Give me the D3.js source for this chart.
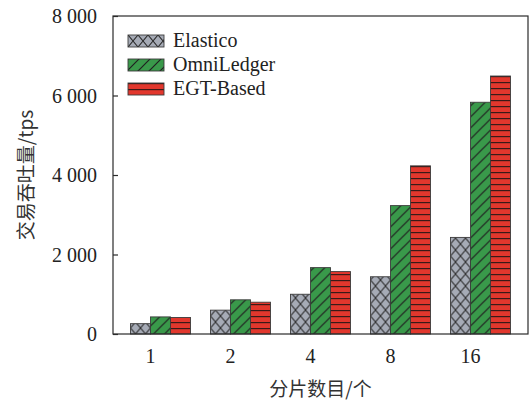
<!DOCTYPE html>
<html>
<head>
<meta charset="utf-8">
<script src="https://cdn.jsdelivr.net/npm/d3@7"></script>
<style>
  html, body { margin: 0; padding: 0; background: #fff; }
  svg { display: block; }
</style>
</head>
<body>
<svg id="chart" width="531" height="400"></svg>
<script>
// Throughput (tps) by shard count for three sharding schemes
const categories = ["1", "2", "4", "8", "16"];
const seriesNames = ["Elastico", "OmniLedger", "EGT-Based"];
const elastico = [260, 600, 1000, 1440, 2430];
const omniLedger = [430, 860, 1670, 3230, 5830];
const egtBased = [415, 800, 1570, 4230, 6490];
const yTicks = [0, 2000, 4000, 6000, 8000];
const xTitle = "分片数目/个";
const yTitle = "交易吞吐量/tps";

const seriesValues = [elastico, omniLedger, egtBased];

const svg = d3.select("#chart");
const margin = { left: 113, right: 3, top: 16, bottom: 66 };
const W = 531, H = 400;
const plotW = W - margin.left - margin.right;
const plotH = H - margin.top - margin.bottom;

const serif = "'Liberation Serif', 'Times New Roman', serif";
const cjk = "'Noto Sans CJK SC', sans-serif";
const ink = "#2b2b2b";

// Hatch patterns
const defs = svg.append("defs");
function hatch(id, fill, w, h, draw) {
  const p = defs.append("pattern")
    .attr("id", id)
    .attr("patternUnits", "userSpaceOnUse")
    .attr("width", w).attr("height", h);
  p.append("rect").attr("width", w).attr("height", h).attr("fill", fill);
  draw(p);
}
hatch("p-cross", "#a6abb6", 10, 12, p => {
  p.append("path").attr("d", "M0,0L10,12M10,0L0,12")
    .attr("stroke", "#2a2a2a").attr("stroke-width", 1.1).attr("fill", "none");
});
hatch("p-diag", "#39994a", 11, 11, p => {
  p.append("path").attr("d", "M0,11L11,0M-1,1L1,-1M10,12L12,10")
    .attr("stroke", "#1f1f1f").attr("stroke-width", 1.2).attr("fill", "none");
});
hatch("p-horiz", "#e2372d", 6, 6, p => {
  p.append("path").attr("d", "M0,0.6L6,0.6")
    .attr("stroke", "#3a1a18").attr("stroke-width", 1.2).attr("fill", "none");
});
const fills = ["url(#p-cross)", "url(#p-diag)", "url(#p-horiz)"];

const g = svg.append("g").attr("transform", `translate(${margin.left},${margin.top})`);

// Scales: groups of three 20px bars on an 80px step
const x0 = d3.scaleBand()
  .domain(categories)
  .range([0, plotW])
  .paddingInner(0.25)
  .paddingOuter(0.21875);
const x1 = d3.scaleBand()
  .domain(seriesNames)
  .range([0, x0.bandwidth()]);
const y = d3.scaleLinear().domain([0, 8000]).range([plotH, 0]);

// Bars
const rows = categories.map((c, i) => ({
  cat: c,
  vals: seriesNames.map((s, k) => ({ s, k, v: seriesValues[k][i] }))
}));
const groups = g.selectAll("g.grp").data(rows).join("g")
  .attr("class", "grp")
  .attr("transform", d => `translate(${x0(d.cat)},0)`);
groups.selectAll("rect").data(d => d.vals).join("rect")
  .attr("x", d => x1(d.s))
  .attr("y", d => y(d.v))
  .attr("width", x1.bandwidth())
  .attr("height", d => plotH - y(d.v))
  .attr("fill", d => fills[d.k])
  .attr("stroke", "#3c3c3c")
  .attr("stroke-width", 0.9);

// Frame
g.append("rect")
  .attr("x", 0).attr("y", 0)
  .attr("width", plotW).attr("height", plotH)
  .attr("fill", "none").attr("stroke", ink).attr("stroke-width", 1.2);

// Y axis with inward ticks
const fmt = d => d3.format(",")(d).replace(/,/g, " ");
const yAxis = g.append("g").call(
  d3.axisLeft(y).tickValues(yTicks).tickFormat(fmt)
    .tickSizeInner(-5).tickSizeOuter(0).tickPadding(16)
);
yAxis.select(".domain").remove();
yAxis.selectAll("line").attr("stroke", ink).attr("stroke-width", 1.2);
yAxis.selectAll("text")
  .attr("font-family", serif).attr("font-size", 20).attr("fill", "#222")
  .attr("dy", "0.34em");

// X axis labels (sit at the first/second bar boundary)
const xAxis = g.append("g").attr("transform", `translate(0,${plotH})`).call(
  d3.axisBottom(x0).tickSize(0).tickPadding(15)
);
xAxis.select(".domain").remove();
xAxis.selectAll(".tick text")
  .attr("x", -x1.bandwidth() / 2)
  .attr("font-family", serif).attr("font-size", 20).attr("fill", "#222");

// Axis titles
svg.append("text")
  .attr("x", margin.left + plotW / 2).attr("y", 396)
  .attr("text-anchor", "middle")
  .attr("font-family", cjk).attr("font-size", 19).attr("fill", "#333")
  .text(xTitle);
svg.append("text")
  .attr("transform", `translate(33,${margin.top + plotH / 2}) rotate(-90)`)
  .attr("text-anchor", "middle")
  .attr("font-family", cjk).attr("font-size", 19).attr("fill", "#333")
  .text(yTitle);

// Legend
const legend = svg.append("g").attr("transform", "translate(128,35)");
const li = legend.selectAll("g").data(seriesNames).join("g")
  .attr("transform", (d, i) => `translate(0,${i * 24})`);
li.append("rect")
  .attr("width", 36).attr("height", 12)
  .attr("fill", (d, i) => fills[i])
  .attr("stroke", "#3c3c3c").attr("stroke-width", 0.9);
li.append("text")
  .attr("x", 45).attr("y", 12)
  .attr("font-family", serif).attr("font-size", 20).attr("fill", "#222")
  .text(d => d);
</script>
</body>
</html>
